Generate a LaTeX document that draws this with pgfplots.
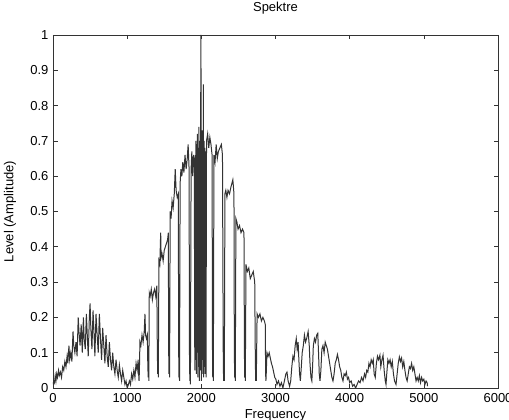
\documentclass[border=0pt]{standalone}
\usepackage{fontspec}
\setmainfont{Liberation Sans}
\usepackage{pgfplots}
\pgfplotsset{compat=1.18}

\begin{document}
\begin{tikzpicture}
\begin{axis}[
    scale only axis,
    width=445pt, height=353pt,
    xmin=0, xmax=6000, ymin=0, ymax=1,
    xtick={0,1000,2000,3000,4000,5000,6000},
    ytick={0,0.1,0.2,0.3,0.4,0.5,0.6,0.7,0.8,0.9,1},
    yticklabels={0,0.1,0.2,0.3,0.4,0.5,0.6,0.7,0.8,0.9,1},
    scaled ticks=false,
    /pgf/number format/1000 sep={},
    /pgf/number format/assume math mode=true,
    tick align=inside,
    major tick length=4.5pt,
    every tick/.style={black!80, line width=0.6pt},
    axis line style={black!80, line width=0.8pt},
    font=\fontsize{13}{15}\selectfont,
    xticklabel style={yshift=-2pt},
    yticklabel style={xshift=-1pt},
    every axis title shift=0pt,
    title={Spektre},
    xlabel={Frequency},
    ylabel={Level (Amplitude)},
    title style={at={(axis description cs:0.5,1.0765)}, anchor=center},
    xlabel style={at={(axis description cs:0.5,-0.0765)}, anchor=north, yshift=9pt},
    ylabel style={at={(axis description cs:-0.0966,0.5)}, anchor=center},
]
\coordinate (sw) at (rel axis cs:0,0);
\coordinate (ne) at (rel axis cs:1,1);
\addplot[black!80, line width=1pt, mark=none] coordinates {
(0,0.01) (10,0.02) (20,0.015) (30,0.035) (40,0.02) (50,0.04) (60,0.03) (75,0.05)
(85,0.035) (100,0.045) (115,0.03) (130,0.06) (145,0.05) (160,0.075) (175,0.06)
(190,0.09) (200,0.07) (215,0.12) (225,0.08) (240,0.10) (255,0.075) (270,0.16)
(280,0.12) (295,0.10) (310,0.13) (325,0.09) (340,0.20) (350,0.16) (365,0.12)
(380,0.18) (395,0.10) (410,0.20) (420,0.14) (435,0.11) (450,0.21) (460,0.16)
(475,0.09) (490,0.20) (500,0.24) (510,0.17) (525,0.11) (540,0.22) (550,0.17)
(565,0.09) (580,0.21) (595,0.15) (610,0.10) (625,0.21) (640,0.14) (655,0.08)
(670,0.17) (685,0.12) (700,0.07) (715,0.15) (730,0.09) (745,0.06) (760,0.13)
(775,0.08) (790,0.05) (805,0.10) (820,0.06) (835,0.04) (850,0.08) (865,0.05)
(880,0.03) (895,0.065) (910,0.04) (925,0.02) (940,0.05) (955,0.03) (970,0.01)
(985,0.02) (1000,0.0) (1010,0.005)
(1030,0.02) (1045,0.01) (1060,0.04) (1075,0.025) (1090,0.05) (1105,0.03)
(1120,0.07) (1135,0.05) (1148,0.08) (1155,0.04) (1160,0.02) (1165,0.05)
(1172,0.13) (1185,0.12) (1200,0.15) (1215,0.13) (1230,0.16) (1240,0.21)
(1248,0.15) (1260,0.14) (1272,0.15) (1278,0.07) (1283,0.03) (1288,0.06)
(1292,0.02) (1298,0.27) (1310,0.26) (1325,0.28) (1340,0.25) (1355,0.27)
(1370,0.28) (1385,0.26) (1400,0.29) (1407,0.10) (1412,0.04) (1416,0.07)
(1420,0.03) (1428,0.36) (1440,0.35) (1452,0.44) (1458,0.37) (1470,0.38)
(1485,0.36) (1500,0.39) (1515,0.40) (1530,0.41) (1545,0.42) (1555,0.44)
(1560,0.10) (1564,0.04) (1568,0.07) (1572,0.03) (1580,0.50) (1592,0.48)
(1605,0.53) (1620,0.51) (1635,0.55) (1648,0.62) (1660,0.56) (1675,0.54)
(1690,0.55) (1694,0.12) (1698,0.03) (1702,0.06) (1706,0.02) (1714,0.58)
(1725,0.62) (1738,0.60) (1750,0.64) (1765,0.61) (1780,0.66) (1795,0.62)
(1810,0.65) (1822,0.69) (1835,0.62) (1840,0.10) (1845,0.02) (1849,0.05)
(1853,0.01) (1862,0.62) (1872,0.67) (1882,0.60) (1895,0.66) (1905,0.63)
(1912,0.05) (1918,0.66) (1923,0.08) (1928,0.70) (1933,0.04) (1938,0.65)
(1943,0.10) (1948,0.72) (1953,0.03) (1958,0.68) (1963,0.06) (1968,0.74)
(1973,0.02) (1978,0.70) (1983,0.05) (1990,0.72) (1995,1.0) (2000,0.02)
(2005,0.70) (2010,0.04) (2015,0.73) (2020,0.08) (2027,0.86) (2032,0.03)
(2037,0.70) (2042,0.06) (2047,0.68) (2052,0.04) (2058,0.67) (2063,0.03)
(2070,0.70) (2085,0.72) (2100,0.68) (2115,0.71) (2130,0.69) (2145,0.66)
(2150,0.12) (2154,0.03) (2158,0.06) (2162,0.02) (2170,0.66) (2185,0.64)
(2200,0.69) (2215,0.65) (2230,0.67) (2250,0.68) (2270,0.69) (2285,0.66)
(2295,0.11) (2300,0.02) (2305,0.05) (2310,0.02) (2318,0.55) (2330,0.56)
(2345,0.54) (2360,0.56) (2380,0.55) (2400,0.57) (2425,0.59) (2440,0.55)
(2445,0.10) (2450,0.03) (2454,0.06) (2458,0.02) (2466,0.48) (2480,0.47)
(2495,0.45) (2515,0.46) (2535,0.44) (2555,0.45) (2575,0.44) (2581,0.10)
(2585,0.03) (2589,0.06) (2593,0.02) (2602,0.35) (2620,0.33) (2640,0.34)
(2660,0.31) (2680,0.32) (2700,0.33) (2720,0.30) (2728,0.08) (2733,0.02)
(2737,0.05) (2741,0.02) (2752,0.21) (2770,0.20) (2790,0.21) (2810,0.19)
(2830,0.20) (2850,0.19) (2862,0.18) (2867,0.04) (2871,0.02) (2875,0.04)
(2885,0.10) (2900,0.09) (2915,0.10) (2930,0.085) (2945,0.07) (2960,0.06)
(2975,0.045) (2990,0.03) (3005,0.025) (3020,0.01) (3040,0.02) (3060,0.005)
(3080,0.015) (3100,0.0) (3120,0.02) (3140,0.04) (3155,0.045) (3170,0.02)
(3190,0.005) (3205,0.02) (3220,0.06) (3235,0.09) (3250,0.08) (3265,0.12)
(3280,0.14) (3292,0.11) (3305,0.13) (3315,0.08) (3325,0.04) (3335,0.02)
(3345,0.05) (3360,0.10) (3375,0.12) (3390,0.15) (3405,0.13) (3420,0.14)
(3440,0.16) (3455,0.12) (3465,0.07) (3478,0.03) (3490,0.02) (3500,0.06)
(3510,0.12) (3525,0.14) (3540,0.13) (3555,0.15) (3570,0.155) (3580,0.10)
(3590,0.04) (3600,0.02) (3612,0.05) (3625,0.11) (3640,0.12) (3655,0.10)
(3670,0.13) (3685,0.12) (3700,0.11) (3715,0.09) (3730,0.07) (3745,0.05)
(3760,0.03) (3775,0.02) (3790,0.04) (3805,0.07) (3820,0.08) (3835,0.095)
(3850,0.08) (3865,0.06) (3880,0.05) (3895,0.03) (3910,0.02) (3925,0.04)
(3940,0.035) (3955,0.045) (3970,0.025) (3985,0.03) (4000,0.015) (4020,0.02)
(4040,0.005) (4060,0.01) (4080,0.0) (4100,0.01) (4120,0.02) (4140,0.015)
(4160,0.03) (4180,0.02) (4200,0.04) (4215,0.03) (4230,0.05) (4245,0.045)
(4260,0.07) (4275,0.06) (4290,0.08) (4305,0.07) (4318,0.08) (4330,0.04)
(4345,0.03) (4360,0.07) (4375,0.09) (4390,0.08) (4408,0.093) (4420,0.06)
(4435,0.08) (4450,0.093) (4465,0.05) (4480,0.02) (4490,0.01) (4500,0.04)
(4515,0.08) (4530,0.07) (4545,0.08) (4560,0.06) (4575,0.075) (4590,0.04)
(4605,0.02) (4625,0.01) (4640,0.04) (4655,0.07) (4670,0.088) (4685,0.075)
(4700,0.085) (4715,0.06) (4730,0.075) (4745,0.05) (4760,0.03) (4775,0.02)
(4790,0.04) (4805,0.06) (4820,0.055) (4835,0.07) (4850,0.05) (4865,0.06)
(4880,0.04) (4895,0.02) (4910,0.03) (4925,0.02) (4940,0.035) (4955,0.015)
(4970,0.03) (4985,0.02) (5000,0.025) (5015,0.01) (5030,0.02) (5045,0.015)
(5050,0.005)
};
\end{axis}
\pgfresetboundingbox
\path[use as bounding box] ([xshift=-53pt,yshift=-31pt]sw) rectangle ([xshift=11pt,yshift=35pt]ne);
\end{tikzpicture}
\end{document}
